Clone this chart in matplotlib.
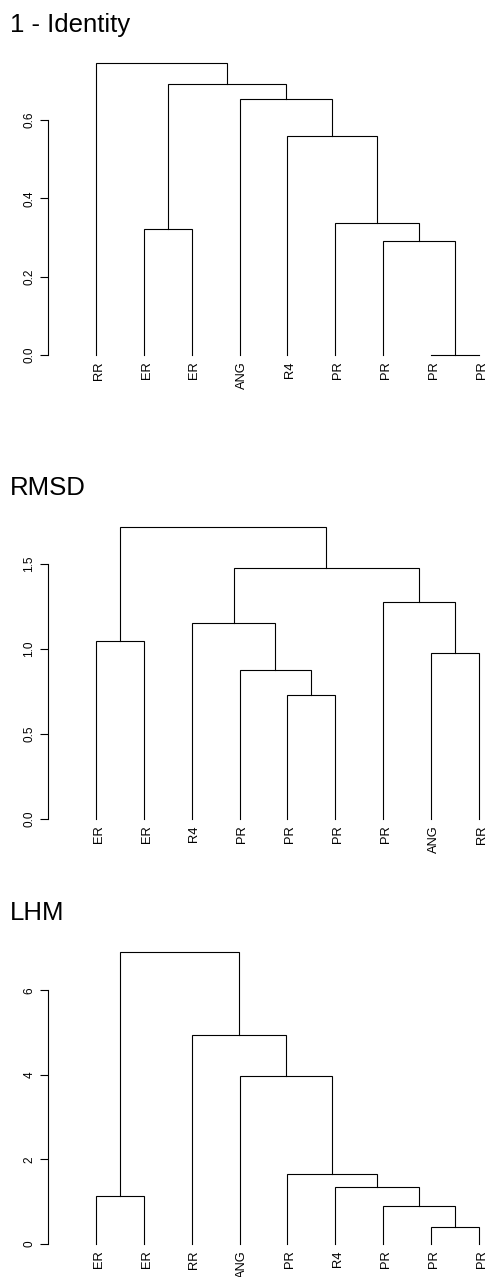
import numpy as np
import matplotlib
matplotlib.use("Agg")
import matplotlib.pyplot as plt

plt.rcParams['font.family'] = ['Liberation Sans', 'DejaVu Sans']

# leaves in plotting order, merges like R's hclust (negative = leaf, positive = earlier merge)
identity_labels = ["RR", "ER", "ER", "ANG", "R4", "PR", "PR", "PR", "PR"]
identity_merge = [(-8, -9), (-7, 1), (-6, 2), (-2, -3), (-5, 3), (-4, 5), (4, 6), (-1, 7)]
identity_height = [0.0, 0.29, 0.336, 0.322, 0.559, 0.655, 0.693, 0.746]
identity_ticks = [0.0, 0.2, 0.4, 0.6]
identity_ticklabels = ["0.0", "0.2", "0.4", "0.6"]

rmsd_labels = ["ER", "ER", "R4", "PR", "PR", "PR", "PR", "ANG", "RR"]
rmsd_merge = [(-5, -6), (-4, 1), (-8, -9), (-1, -2), (-3, 2), (-7, 3), (5, 6), (4, 7)]
rmsd_height = [0.731, 0.876, 0.975, 1.045, 1.155, 1.278, 1.475, 1.72]
rmsd_ticks = [0.0, 0.5, 1.0, 1.5]
rmsd_ticklabels = ["0.0", "0.5", "1.0", "1.5"]

lhm_labels = ["ER", "ER", "RR", "ANG", "PR", "R4", "PR", "PR", "PR"]
lhm_merge = [(-8, -9), (-7, 1), (-1, -2), (-6, 2), (-5, 4), (-4, 5), (-3, 6), (3, 7)]
lhm_height = [0.41, 0.91, 1.13, 1.35, 1.65, 3.97, 4.93, 6.91]
lhm_ticks = [0, 2, 4, 6]
lhm_ticklabels = ["0", "2", "4", "6"]

W, H = 486, 1277
fig = plt.figure(figsize=(W / 100, H / 100), dpi=100)


def draw_dendro(ax, labels, merge, height):
    xs = {}
    for i, (a, b) in enumerate(merge):
        pts = []
        for c in (a, b):
            if c < 0:
                pts.append((-c, 0.0))
            else:
                pts.append((xs[c], height[c - 1]))
        h = height[i]
        (x1, y1), (x2, y2) = pts
        ax.plot([x1, x1, x2, x2], [y1, h, h, y2], color="black", lw=0.8,
                clip_on=False, solid_joinstyle="miter")
        xs[i + 1] = (x1 + x2) / 2
    for i, lab in enumerate(labels):
        ax.annotate(lab, xy=(i + 1, 0), xytext=(2, -4.5), textcoords="offset points",
                    rotation=90, ha="center", va="top", fontsize=9.3)


panels = [
    ("1 - Identity", identity_labels, identity_merge, identity_height,
     identity_ticks, identity_ticklabels, 355, 31.7),
    ("RMSD", rmsd_labels, rmsd_merge, rmsd_height,
     rmsd_ticks, rmsd_ticklabels, 819, 495.3),
    ("LHM", lhm_labels, lhm_merge, lhm_height,
     lhm_ticks, lhm_ticklabels, 1244, 920),
]
top_px = [63, 526.7, 951.7]

for (title, labels, merge, height, ticks, ticklabels, y0, ty), yt in zip(panels, top_px):
    ax = fig.add_axes([48 / W, (H - y0) / H, 431 / W, (y0 - yt) / H])
    draw_dendro(ax, labels, merge, height)
    ax.set_xlim(0, len(labels))
    ax.set_ylim(0, max(height))
    for s in ["top", "right", "bottom"]:
        ax.spines[s].set_visible(False)
    ax.spines["left"].set_bounds(ticks[0], ticks[-1])
    ax.spines["left"].set_linewidth(0.8)
    ax.set_xticks([])
    ax.set_yticks(ticks)
    ax.set_yticklabels(ticklabels, rotation=90, va="center", fontsize=8.5)
    ax.tick_params(axis="y", length=6, width=0.8, pad=3)
    ax.patch.set_visible(False)
    fig.text(10 / W, 1 - ty / H, title, fontsize=18.5, ha="left", va="baseline")

fig.savefig("out.png", dpi=100)
